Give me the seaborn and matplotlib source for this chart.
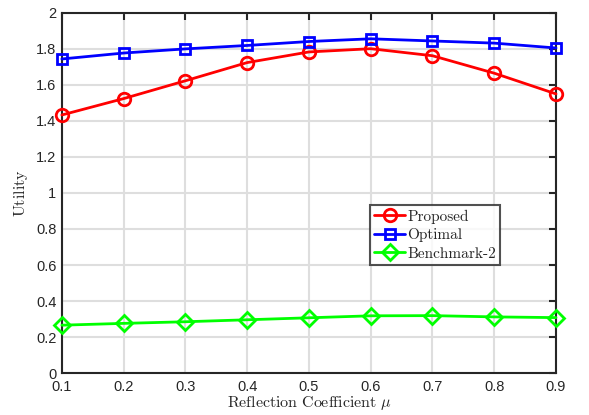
import matplotlib
matplotlib.use("Agg")
import matplotlib.pyplot as plt
import seaborn as sns
import pandas as pd

mu = [0.1, 0.2, 0.3, 0.4, 0.5, 0.6, 0.7, 0.8, 0.9]
proposed = [1.433, 1.524, 1.623, 1.724, 1.783, 1.801, 1.762, 1.665, 1.55]
optimal = [1.744, 1.777, 1.800, 1.819, 1.841, 1.856, 1.844, 1.832, 1.805]
benchmark2 = [0.266, 0.276, 0.285, 0.296, 0.307, 0.318, 0.319, 0.312, 0.308]

sns.set_style("white")
plt.rcParams["font.family"] = ["Liberation Sans", "DejaVu Sans"]
plt.rcParams["mathtext.fontset"] = "cm"

fig = plt.figure(figsize=(5.89, 4.15), dpi=100)
ax = fig.add_axes([0.105, 0.101, 0.839, 0.868])

series = [
    ("Proposed", proposed, "#ff0000", "o", 9),
    ("Optimal", optimal, "#0000ff", "s", 7),
    ("Benchmark-2", benchmark2, "#00ff00", "D", 8),
]
for name, vals, color, mk, ms in series:
    df = pd.DataFrame({"mu": mu, "u": vals})
    sns.lineplot(data=df, x="mu", y="u", ax=ax, color=color, marker=mk, markersize=ms,
                 markerfacecolor="none", markeredgecolor=color, markeredgewidth=2,
                 linewidth=2, label=name, clip_on=False, zorder=3)

ax.set_xlim(0.1, 0.9)
ax.set_ylim(0, 2)
ax.set_xticks(mu)
ax.set_xticklabels([f"{v:.1f}" for v in mu])
ax.set_yticks([0, 0.2, 0.4, 0.6, 0.8, 1, 1.2, 1.4, 1.6, 1.8, 2])
ax.set_yticklabels(["0", "0.2", "0.4", "0.6", "0.8", "1", "1.2", "1.4", "1.6", "1.8", "2"])
ax.grid(True, color="#dedede", linewidth=1.5)
ax.set_axisbelow(True)
for s in ax.spines.values():
    s.set_color("#262626")
    s.set_linewidth(1.5)
    s.set_visible(True)
ax.tick_params(direction="in", length=5, width=1.5, color="#262626", labelcolor="#262626",
               labelsize=10.5, top=True, right=True)
ax.tick_params(axis="x", pad=5)
ax.tick_params(axis="y", pad=4)

ax.set_xlabel(r"$\mathrm{Reflection\ Coefficient}\ \mu$", fontsize=11.5, color="#262626", labelpad=0)
ax.set_ylabel(r"$\mathrm{Utility}$", fontsize=11.5, color="#262626", labelpad=4)

leg = ax.legend(loc="upper left", bbox_to_anchor=(0.623, 0.467), frameon=True, fancybox=False,
                handlelength=2.0, handletextpad=0.15, borderpad=0.3, labelspacing=0.3,
                borderaxespad=0, prop={"family": "cmr10", "size": 11})
leg.get_frame().set_edgecolor("#262626")
leg.get_frame().set_linewidth(1.5)

fig.savefig("out.png", dpi=100)
